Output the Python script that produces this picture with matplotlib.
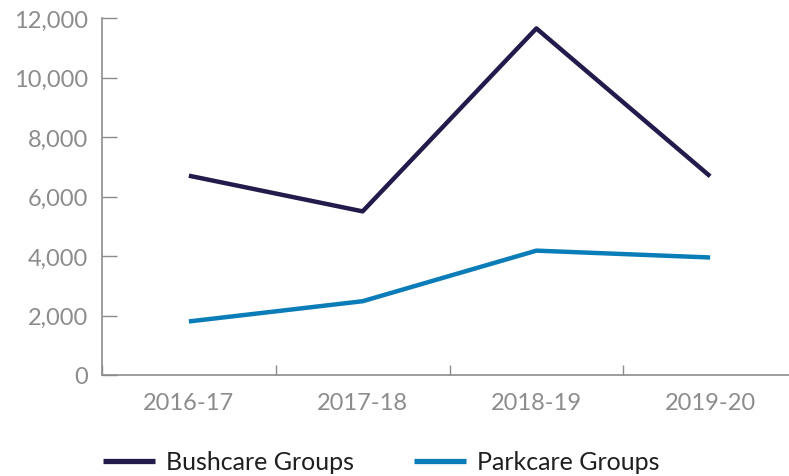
import matplotlib.pyplot as plt
import numpy as np
from matplotlib.ticker import FuncFormatter

years = ["2016-17", "2017-18", "2018-19", "2019-20"]
bushcare = [6700, 5500, 11650, 6680]
parkcare = [1800, 2480, 4180, 3950]

grey = "#8c8c8f"
plt.rcParams["font.family"] = ["Lato", "DejaVu Sans"]

fig = plt.figure(figsize=(7.89, 4.77), dpi=100)
ax = fig.add_axes([102 / 789, 101 / 477, 695 / 789, 357 / 477])

x = np.arange(len(years))
ax.plot(x, bushcare, color="#221b4b", lw=3.2, solid_capstyle="butt", label="Bushcare Groups")
ax.plot(x, parkcare, color="#0a7db8", lw=3.2, solid_capstyle="butt", label="Parkcare Groups")

ax.set_xlim(-0.5, 3.5)
ax.set_ylim(0, 12000)
ax.set_yticks(range(0, 12001, 2000))
ax.yaxis.set_major_formatter(FuncFormatter(lambda v, p: f"{int(v):,}"))

# category labels centred, ticks on the boundaries
ax.set_xticks(x)
ax.set_xticklabels(years)
ax.set_xticks(np.arange(-0.5, 4, 1), minor=True)
ax.tick_params(axis="x", which="major", length=0, pad=12, labelsize=17, labelcolor=grey)
ax.tick_params(axis="x", which="minor", direction="in", length=7, width=1, color=grey)
ax.tick_params(axis="y", direction="in", length=11, width=1, color=grey, pad=10,
               labelsize=17, labelcolor=grey)

for s in ["top", "right"]:
    ax.spines[s].set_visible(False)
for s in ["left", "bottom"]:
    ax.spines[s].set_color(grey)
    ax.spines[s].set_linewidth(1.2)

leg = fig.legend(loc="center left", bbox_to_anchor=(103 / 789, 14 / 477), ncol=2, frameon=False,
                 fontsize=18, handlelength=2.08, handletextpad=0.44, columnspacing=2.4,
                 borderpad=0, borderaxespad=0, labelcolor="#1f1f1f")
for h in leg.legend_handles:
    h.set_linewidth(3.8)

fig.savefig("out.png", dpi=100)
